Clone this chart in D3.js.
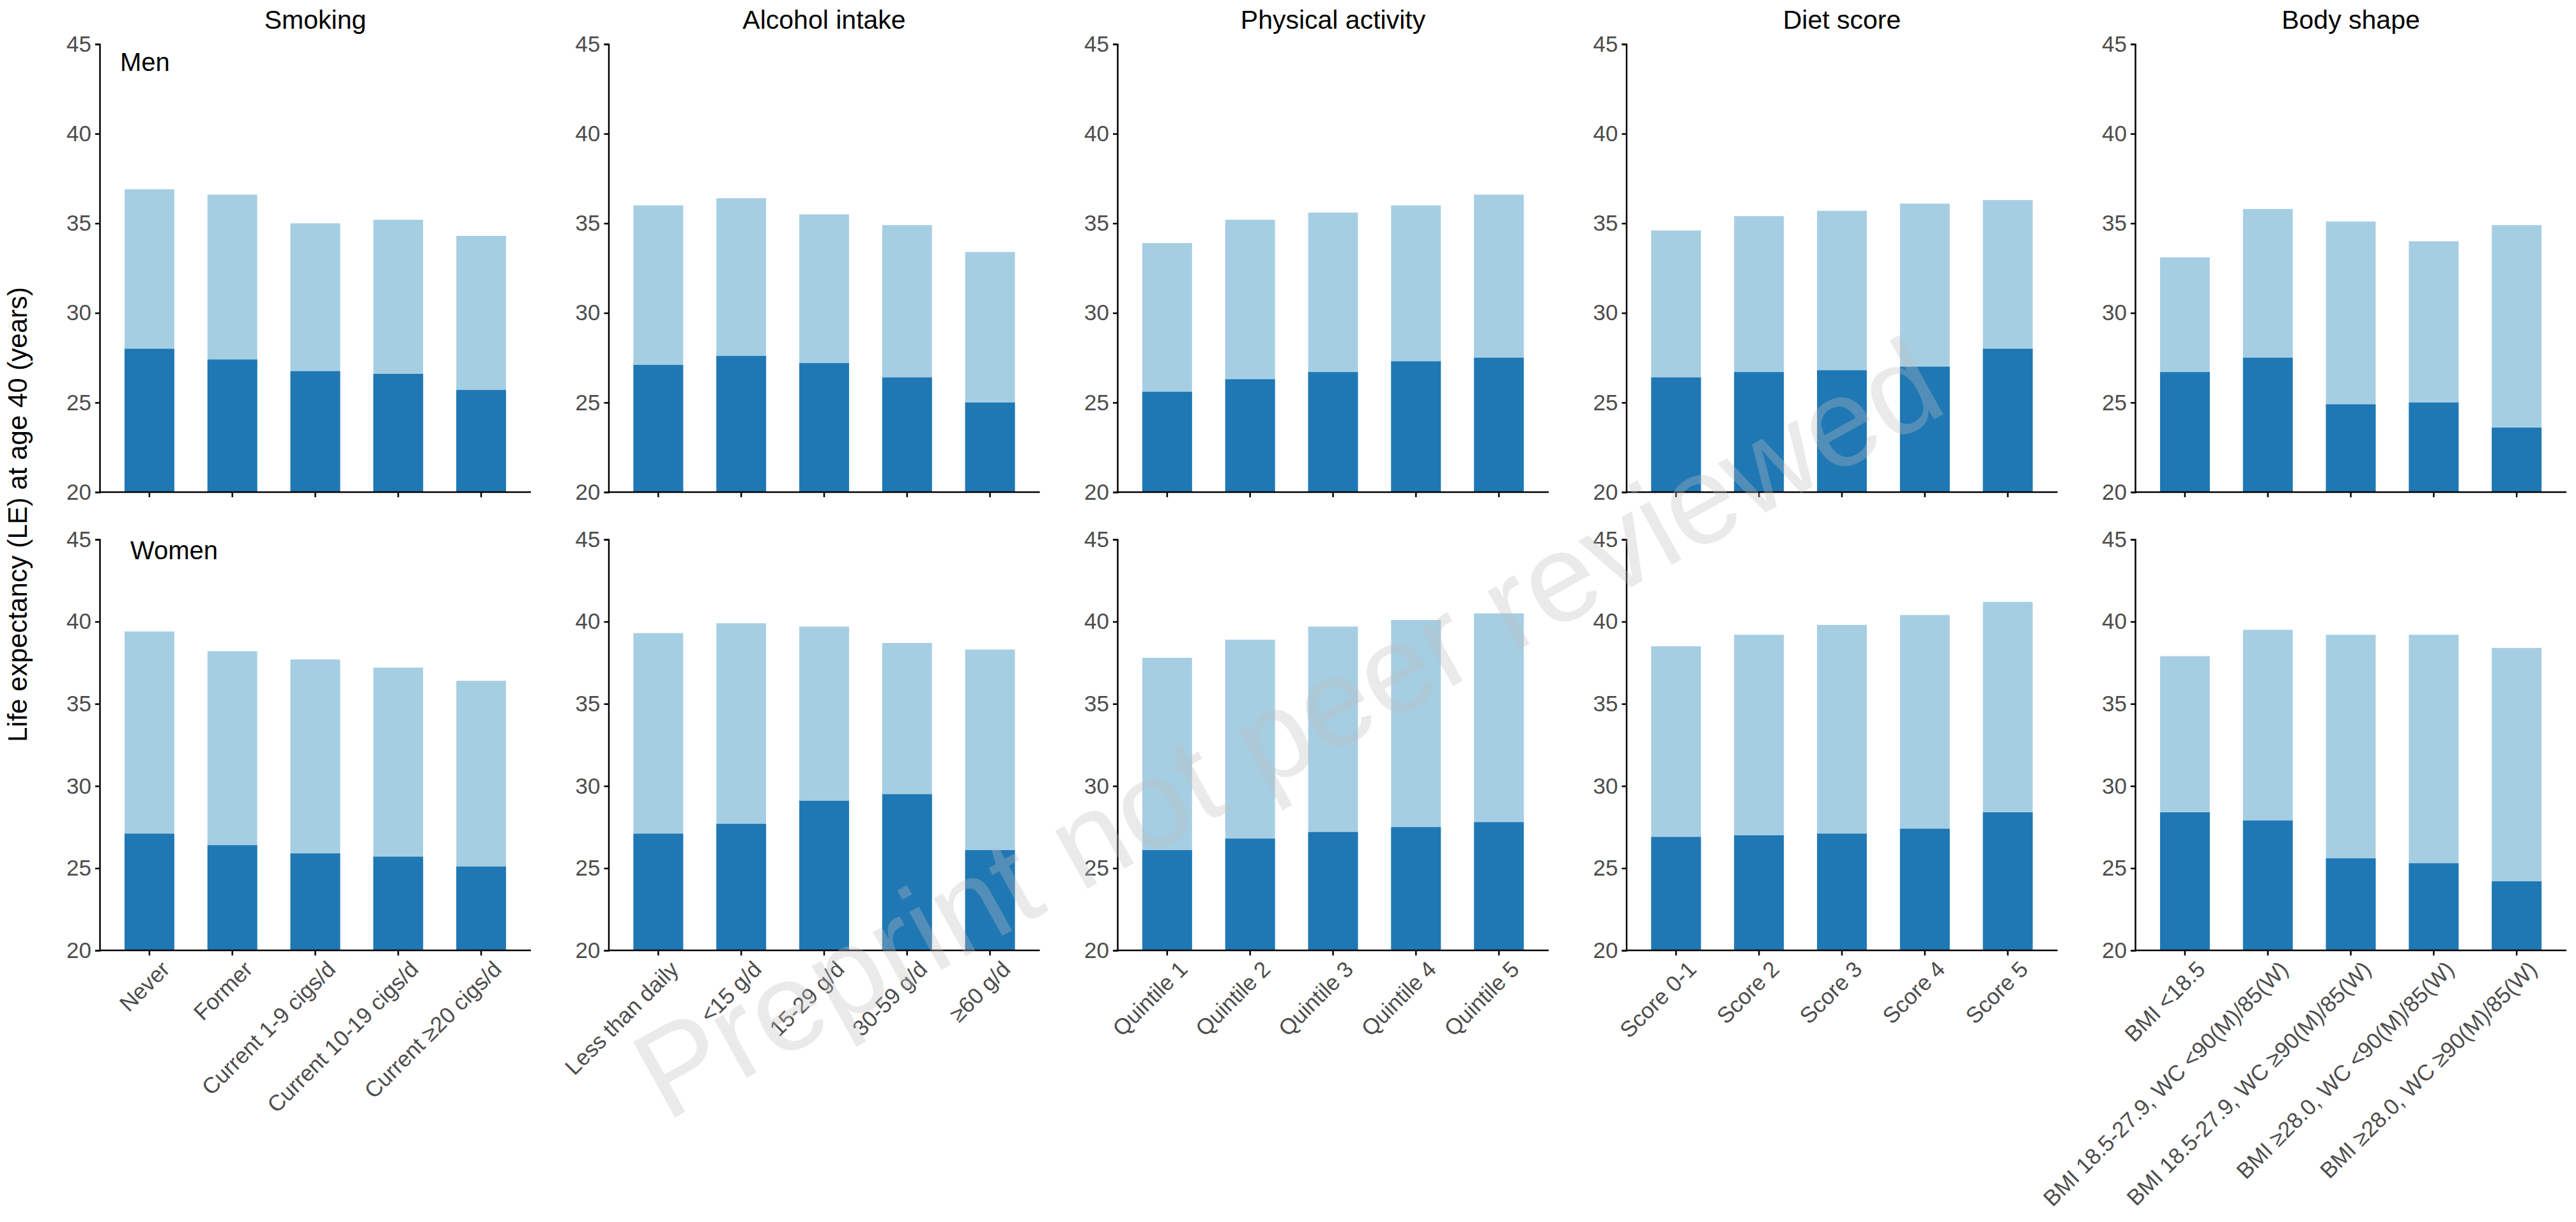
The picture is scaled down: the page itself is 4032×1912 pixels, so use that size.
<!DOCTYPE html>
<html>
<head>
<meta charset="utf-8">
<script src="https://cdn.jsdelivr.net/npm/d3@7"></script>
<style>
  body { margin: 0; background: #fff; }
  svg { display: block; font-family: "Liberation Sans", Arial, sans-serif; }
</style>
</head>
<body>
<div id="chart"></div>
<script>
// categories
const smokingCats = ["Never", "Former", "Current 1-9 cigs/d", "Current 10-19 cigs/d", "Current \u226520 cigs/d"]
const alcoholCats = ["Less than daily", "<15 g/d", "15-29 g/d", "30-59 g/d", "\u226560 g/d"]
const activityCats = ["Quintile 1", "Quintile 2", "Quintile 3", "Quintile 4", "Quintile 5"]
const dietCats = ["Score 0-1", "Score 2", "Score 3", "Score 4", "Score 5"]
const bodyCats = ["BMI <18.5", "BMI 18.5-27.9, WC <90(M)/85(W)", "BMI 18.5-27.9, WC \u226590(M)/85(W)",
                  "BMI \u226528.0, WC <90(M)/85(W)", "BMI \u226528.0, WC \u226590(M)/85(W)"]

// men: total LE (light) and dark part
const smokingMenTotal = [36.9, 36.6, 35.0, 35.2, 34.3]
const smokingMenDark = [28.0, 27.4, 26.75, 26.6, 25.7]
const alcoholMenTotal = [36.0, 36.4, 35.5, 34.9, 33.4]
const alcoholMenDark = [27.1, 27.6, 27.2, 26.4, 25.0]
const activityMenTotal = [33.9, 35.2, 35.6, 36.0, 36.6]
const activityMenDark = [25.6, 26.3, 26.7, 27.3, 27.5]
const dietMenTotal = [34.6, 35.4, 35.7, 36.1, 36.3]
const dietMenDark = [26.4, 26.7, 26.8, 27.0, 28.0]
const bodyMenTotal = [33.1, 35.8, 35.1, 34.0, 34.9]
const bodyMenDark = [26.7, 27.5, 24.9, 25.0, 23.6]

// women
const smokingWomenTotal = [39.4, 38.2, 37.7, 37.2, 36.4]
const smokingWomenDark = [27.1, 26.4, 25.9, 25.7, 25.1]
const alcoholWomenTotal = [39.3, 39.9, 39.7, 38.7, 38.3]
const alcoholWomenDark = [27.1, 27.7, 29.1, 29.5, 26.1]
const activityWomenTotal = [37.8, 38.9, 39.7, 40.1, 40.5]
const activityWomenDark = [26.1, 26.8, 27.2, 27.5, 27.8]
const dietWomenTotal = [38.5, 39.2, 39.8, 40.4, 41.2]
const dietWomenDark = [26.9, 27.0, 27.1, 27.4, 28.4]
const bodyWomenTotal = [37.9, 39.5, 39.2, 39.2, 38.4]
const bodyWomenDark = [28.4, 27.9, 25.6, 25.3, 24.2]

const titles = ["Smoking", "Alcohol intake", "Physical activity", "Diet score", "Body shape"]
const yTicks = [20, 25, 30, 35, 40, 45]

const panels = [
  {cats: smokingCats, men: [smokingMenTotal, smokingMenDark], women: [smokingWomenTotal, smokingWomenDark]},
  {cats: alcoholCats, men: [alcoholMenTotal, alcoholMenDark], women: [alcoholWomenTotal, alcoholWomenDark]},
  {cats: activityCats, men: [activityMenTotal, activityMenDark], women: [activityWomenTotal, activityWomenDark]},
  {cats: dietCats, men: [dietMenTotal, dietMenDark], women: [dietWomenTotal, dietWomenDark]},
  {cats: bodyCats, men: [bodyMenTotal, bodyMenDark], women: [bodyWomenTotal, bodyWomenDark]}
]

drawChart("#chart")

function createCanvas(){
    return {
        width: 4032, height: 1912,
        colLeft: 156, colStep: 796.5, plotWidth: 675,
        rows: [{top: 69, bottom: 770}, {top: 844, bottom: 1487}]
    }
}

function drawChart(id){
    const canvas = createCanvas()
    d3.select(id).html("")
    const svg = d3.select(id).append("svg")
        .attr("width", canvas.width).attr("height", canvas.height)
        .attr("viewBox", `0 0 ${canvas.width} ${canvas.height}`)

    panels.forEach((p, i) => {
        const x0 = canvas.colLeft + i * canvas.colStep
        addPanel(svg, p.cats, p.men, x0, canvas.rows[0], canvas, false)
        addPanel(svg, p.cats, p.women, x0, canvas.rows[1], canvas, true)
        addTitle(svg, titles[i], x0, canvas)
    })

    addSexLabels(svg)
    addYLabel(svg)
    addWatermark(svg)
}

function addPanel(svg, cats, series, x0, row, canvas, showLabels){
    const xScale = d3.scaleBand().domain(cats)
        .range([x0, x0 + canvas.plotWidth]).paddingInner(0.4).paddingOuter(0.3)
    const yScale = d3.scaleLinear().domain([20, 45]).range([row.bottom, row.top])

    const data = cats.map((c, k) => ({cat: c, total: series[0][k], dark: series[1][k]}))

    const g = svg.append("g")
    g.selectAll("rect.total").data(data).enter().append("rect").attr("class", "total")
        .attr("x", d => xScale(d.cat)).attr("width", xScale.bandwidth())
        .attr("y", d => yScale(d.total)).attr("height", d => yScale(20) - yScale(d.total))
        .attr("fill", "#a6cee3")
    g.selectAll("rect.dark").data(data).enter().append("rect").attr("class", "dark")
        .attr("x", d => xScale(d.cat)).attr("width", xScale.bandwidth())
        .attr("y", d => yScale(d.dark)).attr("height", d => yScale(20) - yScale(d.dark))
        .attr("fill", "#1f78b4")

    const yAxis = g.append("g").attr("transform", `translate(${x0},0)`)
        .call(d3.axisLeft(yScale).tickValues(yTicks).tickSize(7).tickPadding(6))
    styleAxis(yAxis)
    yAxis.selectAll("text").attr("font-size", "35px")

    const xAxis = g.append("g").attr("transform", `translate(0,${row.bottom})`)
        .call(d3.axisBottom(xScale).tickSize(8).tickSizeOuter(0))
    styleAxis(xAxis)
    xAxis.select(".domain").attr("d", `M${x0},0H${x0 + canvas.plotWidth}`)

    if(showLabels){
        xAxis.selectAll(".tick text")
            .attr("text-anchor", "end").attr("font-size", "35px")
            .attr("x", 0).attr("y", 0).attr("dy", "0.72em")
            .attr("transform", "translate(16,14) rotate(-45)")
    } else {
        xAxis.selectAll(".tick text").remove()
    }
}

function styleAxis(axis){
    axis.select(".domain").attr("stroke", "#000").attr("stroke-width", 2.5)
    axis.selectAll(".tick line").attr("stroke", "#000").attr("stroke-width", 2.5)
    axis.selectAll(".tick text").attr("fill", "#4d4d4d")
        .attr("font-family", "'Liberation Sans', Arial, sans-serif")
}

function addTitle(svg, title, x0, canvas){
    svg.append("text")
        .attr("x", x0 + canvas.plotWidth / 2).attr("y", 45)
        .attr("text-anchor", "middle").attr("font-size", "41px").attr("fill", "#000")
        .text(title)
}

function addSexLabels(svg){
    svg.append("text").attr("x", 188).attr("y", 111)
        .attr("font-size", "40px").attr("fill", "#000").text("Men")
    svg.append("text").attr("x", 204).attr("y", 875)
        .attr("font-size", "40px").attr("fill", "#000").text("Women")
}

function addYLabel(svg){
    svg.append("text")
        .attr("transform", "translate(42,805) rotate(-90)")
        .attr("text-anchor", "middle").attr("font-size", "42px").attr("fill", "#000")
        .text("Life expectancy (LE) at age 40 (years)")
}

function addWatermark(svg){
    svg.append("text")
        .attr("transform", "translate(2015,1140) rotate(-29)")
        .attr("text-anchor", "middle").attr("dominant-baseline", "central")
        .attr("font-size", "196px").attr("fill", "#bebebe").attr("fill-opacity", 0.32)
        .text("Preprint not peer reviewed")
}
</script>
</body>
</html>
